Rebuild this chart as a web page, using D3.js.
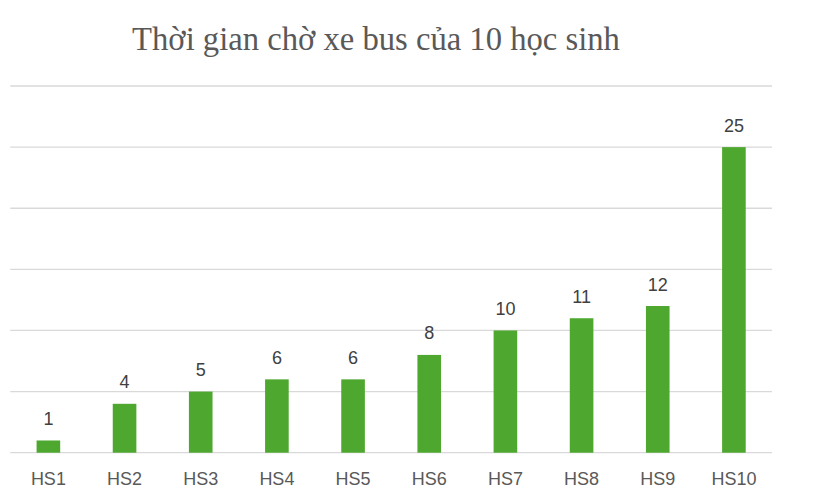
<!DOCTYPE html>
<html><head><meta charset="utf-8">
<script src="https://cdn.jsdelivr.net/npm/d3@7"></script>
<style>body{margin:0;background:#fff}</style>
</head><body>
<svg id="c" width="823" height="501"></svg>
<script>
const title = "Thời gian chờ xe bus của 10 học sinh";
const categories = ["HS1","HS2","HS3","HS4","HS5","HS6","HS7","HS8","HS9","HS10"];
const values = [1,4,5,6,6,8,10,11,12,25];
const yTicks = [0,5,10,15,20,25,30];

const svg = d3.select("#c");
const x = d3.scaleBand().domain(categories).range([10.3, 772]).padding(0);
const y = d3.scaleLinear().domain([0,30]).range([452.7, 86]);

svg.append("g").selectAll("line").data(yTicks).join("line")
  .attr("x1", 10.3).attr("x2", 772)
  .attr("y1", d => y(d)).attr("y2", d => y(d))
  .attr("stroke", "#d9d9d9").attr("stroke-width", 1.3);

const bw = x.bandwidth() * 0.31;
svg.append("g").selectAll("rect").data(values).join("rect")
  .attr("x", (d,i) => x(categories[i]) + x.bandwidth()/2 - bw/2)
  .attr("width", bw)
  .attr("y", d => y(d))
  .attr("height", d => y(0) - y(d))
  .attr("fill", "#4ea72e");

svg.append("g").selectAll("text").data(values).join("text")
  .attr("x", (d,i) => x(categories[i]) + x.bandwidth()/2)
  .attr("y", d => y(d) - 15.5)
  .attr("text-anchor", "middle")
  .attr("font-family", "Liberation Sans, Arial, sans-serif")
  .attr("font-size", 18)
  .attr("fill", "#404040")
  .text(d => d);

svg.append("g").selectAll("text").data(categories).join("text")
  .attr("x", d => x(d) + x.bandwidth()/2)
  .attr("y", 485)
  .attr("text-anchor", "middle")
  .attr("font-family", "Liberation Sans, Arial, sans-serif")
  .attr("font-size", 18)
  .attr("fill", "#595959")
  .text(d => d);

const t = svg.append("text")
  .attr("x", 376).attr("y", 50)
  .attr("text-anchor", "middle")
  .attr("font-family", "Liberation Serif, Times New Roman, serif")
  .attr("font-size", 30)
  .attr("fill", "#595959")
  .text(title);
const w = t.node().getComputedTextLength();
t.attr("font-size", 30 * 488 / w);
</script>
</body></html>
